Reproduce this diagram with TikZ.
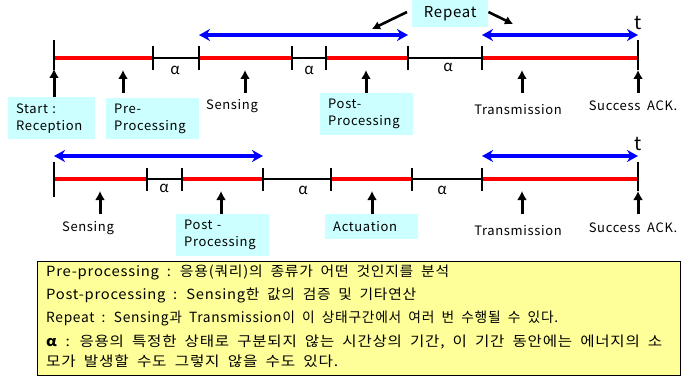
\documentclass[tikz,border=0pt]{standalone}
\usepackage{graphicx}
\usepackage{fontspec}
\setmainfont{Noto Sans CJK KR}
\newfontfamily\labfont[LetterSpace=5]{Noto Sans CJK KR}
\newfontfamily\notefont[LetterSpace=5,WordSpace=1.9]{Noto Sans CJK KR}
\usetikzlibrary{arrows.meta}
\definecolor{lblcyan}{HTML}{CCFFFF}
\definecolor{notey}{HTML}{FFFF99}
\newcommand{\fitline}[2]{\resizebox{#1}{\height}{#2}}
\tikzset{
  redseg/.style={red, line width=3.2pt},
  blkseg/.style={black, line width=1.2pt},
  tickmark/.style={black, line width=1.8pt},
  uparrow/.style={-{Latex[length=9pt,width=10pt]}, line width=3pt},
  bluearrow/.style={{Stealth[length=11pt,width=12pt]}-{Stealth[length=11pt,width=12pt]}, blue, line width=3.4pt},
  pointer/.style={-{Latex[length=8pt,width=9pt]}, line width=2.6pt},
  lbl/.style={font=\labfont\fontsize{13}{17}\selectfont, inner sep=0pt},
  lblbox/.style={fill=lblcyan, anchor=north west, align=left, inner xsep=8pt, inner ysep=0pt,
     font=\labfont\fontsize{13}{17}\selectfont},
  alph/.style={font=\fontsize{15}{15}\selectfont, inner sep=0pt},
  tlab/.style={font=\fontsize{19}{19}\selectfont, inner sep=0pt},
  noteline/.style={anchor=west, inner sep=0pt, font=\notefont\fontsize{14}{16}\selectfont},
}
\begin{document}
\begin{tikzpicture}[x=1pt,y=-1pt]
\useasboundingbox (0,0) rectangle (693,377);
% ---------- top timeline ----------
\foreach \n/\x in {0/54,1/153,2/199,3/292,4/326,5/408,6/482,7/638}
  \coordinate (a\n) at (\x,58);
\draw[redseg] (a0) -- (a1);
\draw[blkseg] (a1) -- (a2);
\draw[redseg] (a2) -- (a3);
\draw[blkseg] (a3) -- (a4);
\draw[redseg] (a4) -- (a5);
\draw[blkseg] (a5) -- (a6);
\draw[redseg] (a6) -- (a7);
\foreach \n in {1,...,6} \draw[tickmark] (a\n) ++(0,-12) -- ++(0,24);
\draw[tickmark] (a0) ++(0,-18) -- ++(0,30);
\draw[tickmark] (a7) ++(0,-18) -- (a7);
\node[tlab] (ta) at (638,23) {t};
% blue arrows
\coordinate (ba1) at (199,35); \coordinate (ba2) at (408,35);
\coordinate (ba3) at (482,35); \coordinate (ba4) at (638,35);
\draw[bluearrow] (ba1) -- (ba2);
\draw[bluearrow] (ba3) -- (ba4);
% repeat
\node[fill=lblcyan, minimum width=76pt, minimum height=27pt, anchor=north west,
      font=\labfont\fontsize{15}{15}\selectfont, inner sep=0pt] (rep) at (412,0) {Repeat};
\coordinate (pl) at (372,29); \coordinate (pr) at (513,24);
\draw[pointer] (rep.west |- 0,12) ++(-5,0) -- (pl);
\draw[pointer] (rep.east |- 0,12) -- (pr);
% alpha labels
\node[alph] (al1) at (175,70) {α};
\node[alph] (al2) at (309,70) {α};
\node[alph] (al3) at (448,67) {α};
% labels
\node[lblbox, minimum width=87pt, minimum height=42pt, text width=71pt] (start) at (8,97) {Start :\\Reception};
\node[lblbox, minimum width=93pt, minimum height=41pt, text width=77pt] (pre) at (106,98) {Pre-\\Processing};
\node[lbl] (sens) at (232,106) {Sensing};
\node[lblbox, minimum width=93pt, minimum height=42pt, text width=77pt] (post) at (320,93) {Post-\\Processing};
\node[lbl] (trans) at (518,110) {Transmission};
\node[lbl] (ack) at (633,106) {Success ACK.};
% up arrows
\draw[uparrow] (start.north -| a0) -- ++(0,-28);
\coordinate (u1) at (123,70); \draw[uparrow] (u1) ++(0,23) -- (u1);
\coordinate (u2) at (245,70); \draw[uparrow] (u2) ++(0,23) -- (u2);
\coordinate (u3) at (366,70); \draw[uparrow] (u3) ++(0,23) -- (u3);
\coordinate (u4) at (522,70); \draw[uparrow] (u4) ++(0,23) -- (u4);
\coordinate (u5) at (638,70); \draw[uparrow] (u5) ++(0,23) -- (u5);
\draw[tickmark] (a7) -- (u5);
% ---------- bottom timeline ----------
\foreach \n/\x in {0/54,1/147,2/182,3/263,4/331,5/412,6/482,7/638}
  \coordinate (b\n) at (\x,179);
\draw[redseg] (b0) -- (b1);
\draw[blkseg] (b1) -- (b2);
\draw[redseg] (b2) -- (b3);
\draw[blkseg] (b3) -- (b4);
\draw[redseg] (b4) -- (b5);
\draw[blkseg] (b5) -- (b6);
\draw[redseg] (b6) -- (b7);
\foreach \n in {1,...,6} \draw[tickmark] (b\n) ++(0,-11) -- ++(0,23);
\draw[tickmark] (b0) ++(0,-17) -- ++(0,35);
\draw[tickmark] (b7) ++(0,-17) -- (b7);
\node[tlab] (tb) at (638,144) {t};
\coordinate (bb1) at (54,156); \coordinate (bb2) at (263,156);
\coordinate (bb3) at (482,156); \coordinate (bb4) at (638,156);
\draw[bluearrow] (bb1) -- (bb2);
\draw[bluearrow] (bb3) -- (bb4);
\node[alph] (al4) at (164,188) {α};
\node[alph] (al5) at (303,190) {α};
\node[alph] (al6) at (442,190) {α};
\node[lbl] (sens2) at (88,228) {Sensing};
\node[lblbox, minimum width=93pt, minimum height=42pt, text width=77pt] (post2) at (176,214) {Post -\\Processing};
\node[lblbox, minimum width=93pt, minimum height=25pt, text width=77pt] (act) at (325,214) {Actuation};
\node[lbl] (trans2) at (518,231) {Transmission};
\node[lbl] (ack2) at (633,228) {Success ACK.};
\coordinate (v1) at (100,191); \draw[uparrow] (v1) ++(0,23) -- (v1);
\coordinate (v2) at (221,191); \draw[uparrow] (v2) ++(0,23) -- (v2);
\coordinate (v3) at (372,191); \draw[uparrow] (v3) ++(0,23) -- (v3);
\coordinate (v4) at (522,191); \draw[uparrow] (v4) ++(0,23) -- (v4);
\coordinate (v5) at (638,191); \draw[uparrow] (v5) ++(0,23) -- (v5);
\draw[tickmark] (b7) -- (v5);
% ---------- note box ----------
\node[draw=black, line width=1.3pt, fill=notey, anchor=north west, minimum width=643pt, minimum height=114pt, inner sep=0pt] (note) at (37,261) {};
\node[noteline] (n1) at (46,272) {\fitline{403pt}{Pre-processing : 응용(쿼리)의 종류가 어떤 것인지를 분석}};
\node[noteline] (n2) at (46,295) {\fitline{370pt}{Post-processing : Sensing한 값의 검증 및 기타연산}};
\node[noteline] (n3) at (46,318) {\fitline{512pt}{Repeat : Sensing과 Transmission이 이 상태구간에서 여러 번 수행될 수 있다.}};
\node[noteline] (n4) at (46,342) {\fitline{616pt}{\textbf{α} : 응용의 특정한 상태로 구분되지 않는 시간상의 기간, 이 기간 동안에는 에너지의 소}};
\node[noteline] (n5) at (46,361) {\fitline{292pt}{모가 발생할 수도 그렇지 않을 수도 있다.}};
\end{tikzpicture}
\end{document}
